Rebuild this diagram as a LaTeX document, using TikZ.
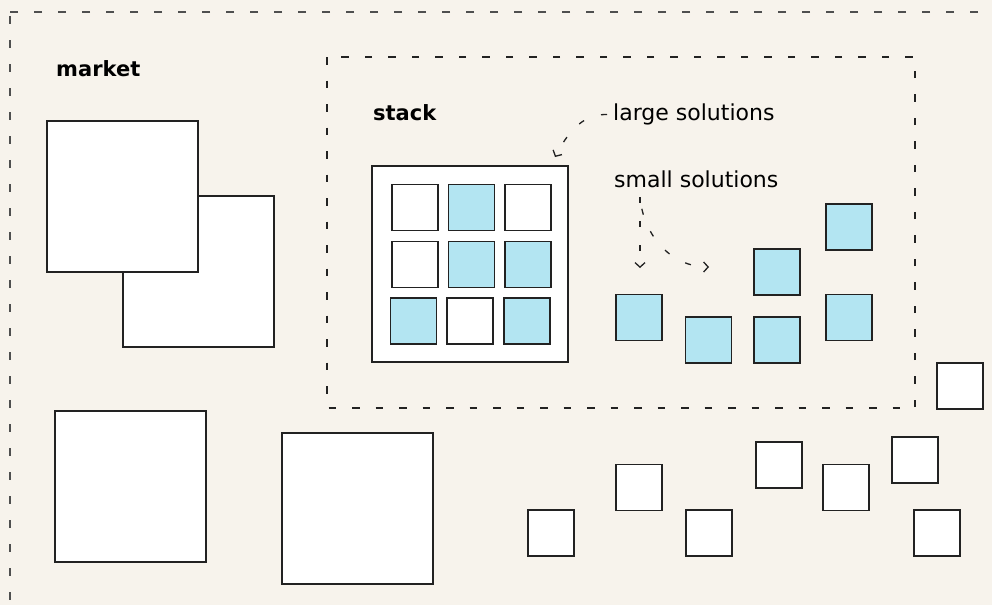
\documentclass[tikz,border=0pt]{standalone}
\usepackage{fontspec}
\setmainfont{DejaVu Sans}
\usetikzlibrary{arrows.meta}

\definecolor{paper}{HTML}{F7F3EC}
\definecolor{solblue}{HTML}{B3E5F2}
\definecolor{ink}{HTML}{222222}
\definecolor{softink}{HTML}{4F4F4F}

\tikzset{
  box/.style={draw=ink, line width=1.3pt, fill=white, inner sep=0pt,
    outer sep=0pt, anchor=north west, minimum size=#1},
  box/.default=46pt,
  bluebox/.style={box, fill=solblue},
  zone/.style={draw=ink, line width=1.4pt, dash pattern=on 7.5pt off 16pt},
  outerzone/.style={zone, draw=softink, line width=1.8pt, dash pattern=on 8pt off 16pt},
  hint/.style={draw=ink, line width=1.3pt, dash pattern=on 6pt off 18pt,
    -{Straight Barb[length=4.5pt,width=10pt,line width=1.3pt]}},
  heading/.style={anchor=base west, inner sep=0pt, text=black,
    font=\fontsize{21}{25}\selectfont\bfseries},
  caption/.style={anchor=base west, inner sep=0pt, text=black,
    font=\fontsize{22}{26}\selectfont},
}

\begin{document}
\begin{tikzpicture}[x=1pt, y=-1pt]
  \useasboundingbox (0,0) rectangle (992,605);
  \fill[paper] (0,0) rectangle (992,605);
  \begin{scope}
    \clip (0,0) rectangle (992,605);
    % market frame, running past the page edges
    \draw[outerzone, dash phase=20pt] (10,12) rectangle (1020,640);
  \end{scope}
  % stack frame
  \draw[zone] (327,57) rectangle (915,408);

  \node[heading] (market) at (56,76) {market};
  \node[heading] (stack) at (373,120.5) {stack};
  \node[caption] (large) at (613,120.5) {large solutions};
  \node[caption] (small) at (614,187.5) {small solutions};

  % large products in the market
  \node[box=151pt] (m2) at (123,196) {};
  \node[box=151pt] (m1) at (47,121) {};
  \node[box=151pt] (m3) at (55,411) {};
  \node[box=151pt] (m4) at (282,433) {};

  % the stack, a large solution made of parts
  \node[box=196pt] (grid) at (372,166) {};
  \node[box]     (g11) at (392,184.5) {};
  \node[bluebox] (g12) at (448.5,184.5) {};
  \node[box]     (g13) at (505,184.5) {};
  \node[box]     (g21) at (392,241.5) {};
  \node[bluebox] (g22) at (448.5,241.5) {};
  \node[bluebox] (g23) at (505,241.5) {};
  \node[bluebox] (g31) at (390.5,298) {};
  \node[box]     (g32) at (447,298) {};
  \node[bluebox] (g33) at (504,298) {};

  % small solutions in the stack
  \node[bluebox] (s1) at (616,294.5) {};
  \node[bluebox] (s2) at (685.5,317) {};
  \node[bluebox] (s3) at (754,249) {};
  \node[bluebox] (s4) at (754,317) {};
  \node[bluebox] (s5) at (826,204) {};
  \node[bluebox] (s6) at (826,294.5) {};

  % small products in the market
  \node[box] (p1) at (937,363) {};
  \node[box] (p2) at (756,442) {};
  \node[box] (p3) at (823,464.5) {};
  \node[box] (p4) at (892,437) {};
  \node[box] (p5) at (616,464.5) {};
  \node[box] (p6) at (528,510) {};
  \node[box] (p7) at (686,510) {};
  \node[box] (p8) at (914,510) {};

  % pointers from the captions
  \coordinate (lstart) at ([xshift=-6pt]large.west);
  \coordinate (lend) at (555,157);
  \draw[hint] (lstart) to[out=180, in=62] (lend);

  \coordinate (sstart) at (640,197);
  \coordinate (sdown) at (640,268);
  \coordinate (sright) at (709,267);
  \draw[hint] (sstart) -- (sdown);
  \draw[hint, dash phase=12pt] (sstart) to[out=-85, in=180] (sright);
\end{tikzpicture}
\end{document}
